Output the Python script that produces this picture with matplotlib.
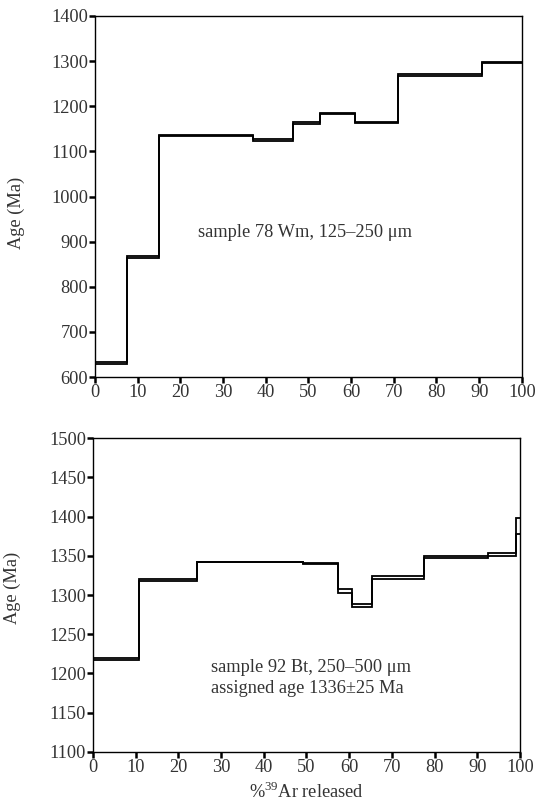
import numpy as np
import matplotlib
matplotlib.use('Agg')
import matplotlib.pyplot as plt

plt.rcParams['font.family'] = ['Liberation Serif', 'DejaVu Serif']
plt.rcParams['mathtext.fontset'] = 'custom'
plt.rcParams['mathtext.rm'] = 'Liberation Serif'

# --- sample 78 Wm: step edges (% 39Ar) and age box (low, high) in Ma ---
edges_78 = [0, 7.4, 15.1, 37.1, 46.4, 52.7, 60.9, 70.9, 90.6, 100]
low_78 = [629, 864, 1135, 1124, 1160, 1182, 1162, 1268, 1295]
high_78 = [633, 868, 1136, 1128, 1164, 1185, 1166, 1272, 1299]

# --- sample 92 Bt ---
edges_92 = [0, 10.8, 24.4, 49.1, 57.3, 60.7, 65.3, 77.6, 92.6, 99.1, 100]
low_92 = [1217, 1318, 1341.5, 1339, 1303, 1285, 1321, 1347.5, 1350, 1378]
high_92 = [1220, 1321, 1342.5, 1341, 1308, 1289, 1324, 1349.5, 1354, 1398]

fig = plt.figure(figsize=(5.38, 8.07), dpi=100)
ax1 = fig.add_axes([0.1766, 0.5328, 0.7934, 0.4474])
ax2 = fig.add_axes([0.1729, 0.0682, 0.7936, 0.3890])

FS = 13.2
TXT = '#333333'

def style(ax):
    ax.set_xlim(0, 100)
    ax.set_xticks(np.arange(0, 101, 10))
    ax.tick_params(direction='out', length=4, width=1.8, labelsize=FS,
                   labelcolor=TXT, pad=1)
    for s in ax.spines.values():
        s.set_linewidth(1.0)
    ax.set_ylabel('Age (Ma)', fontsize=FS, color=TXT)

# top panel
ax1.stairs(low_78, edges_78, color='black', lw=1.3, baseline=None)
ax1.stairs(high_78, edges_78, color='black', lw=1.3, baseline=None)
ax1.set_ylim(600, 1400)
ax1.set_yticks(np.arange(600, 1401, 100))
style(ax1)
ax1.yaxis.set_label_coords(-0.164, 0.454)
ax1.text(49.2, 921, 'sample 78 Wm, 125\u2013250 \u03bcm', ha='center', va='center',
         fontsize=FS, color=TXT)

# bottom panel
ax2.stairs(low_92, edges_92, color='black', lw=1.3, baseline=None)
ax2.stairs(high_92, edges_92, color='black', lw=1.3, baseline=None)
ax2.set_ylim(1100, 1500)
ax2.set_yticks(np.arange(1100, 1501, 50))
style(ax2)
ax2.yaxis.set_label_coords(-0.169, 0.522)
ax2.text(27.6, 1207, 'sample 92 Bt, 250\u2013500 \u03bcm', ha='left', va='center',
         fontsize=FS, color=TXT)
ax2.text(27.6, 1181.5, 'assigned age 1336\u00b125 Ma', ha='left', va='center',
         fontsize=FS, color=TXT)
ax2.set_xlabel(r'%$^{39}$Ar released', fontsize=FS, color=TXT, labelpad=4)

fig.savefig('out.png', dpi=100)
